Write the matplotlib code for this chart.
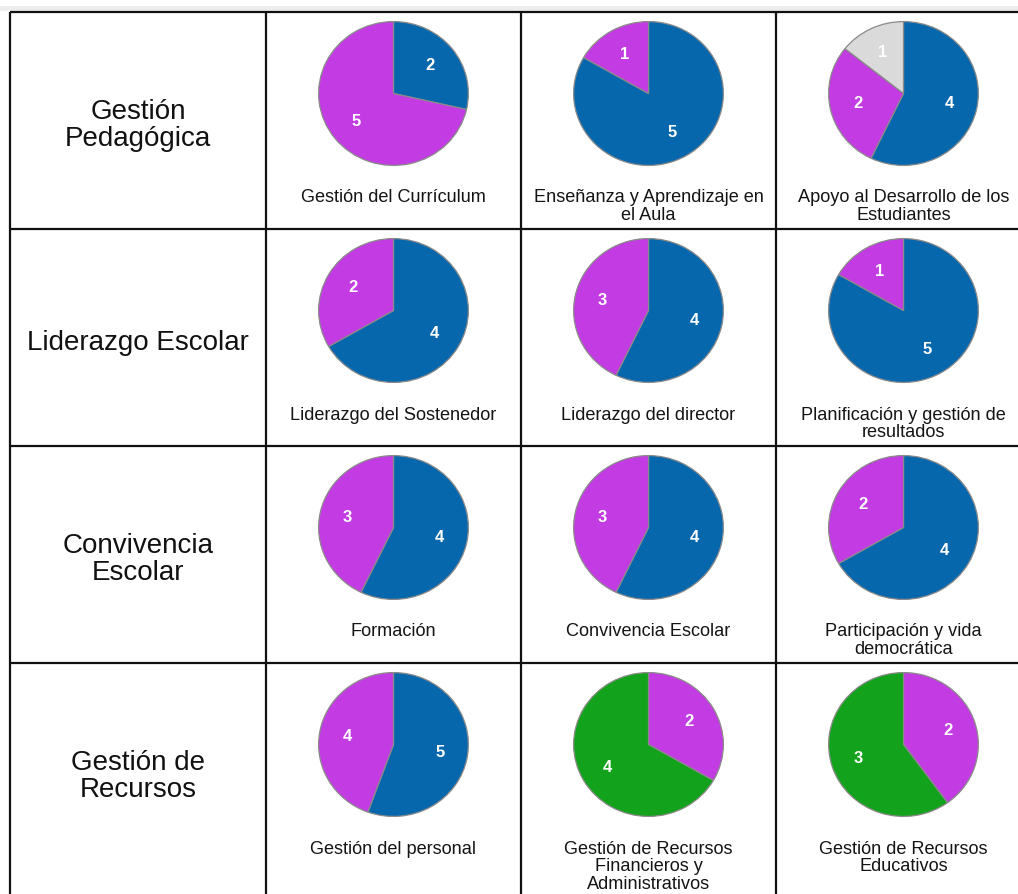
import matplotlib
matplotlib.use("Agg")
import matplotlib.pyplot as plt

plt.rcParams['font.family'] = ['Liberation Sans', 'DejaVu Sans']

# ---- data ----
row_labels = ["Gestión\nPedagógica", "Liderazgo Escolar", "Convivencia\nEscolar", "Gestión de\nRecursos"]
captions = [
    ["Gestión del Currículum", "Enseñanza y Aprendizaje en\nel Aula", "Apoyo al Desarrollo de los\nEstudiantes"],
    ["Liderazgo del Sostenedor", "Liderazgo del director", "Planificación y gestión de\nresultados"],
    ["Formación", "Convivencia Escolar", "Participación y vida\ndemocrática"],
    ["Gestión del personal", "Gestión de Recursos\nFinancieros y\nAdministrativos", "Gestión de Recursos\nEducativos"],
]
# series order: blue, magenta, green, gray
series_colors = ["#0767AD", "#C33BE3", "#13A21B", "#DADADA"]
blue_vals = [[2, 5, 4], [4, 4, 5], [4, 4, 4], [5, 0, 0]]
magenta_vals = [[5, 1, 2], [2, 3, 1], [3, 3, 2], [4, 2, 2]]
green_vals = [[0, 0, 0], [0, 0, 0], [0, 0, 0], [0, 4, 3]]
gray_vals = [[0, 0, 1], [0, 0, 0], [0, 0, 0], [0, 0, 0]]

# ---- layout (pixels) ----
W, H = 1018, 894
fig = plt.figure(figsize=(W / 100, H / 100), dpi=100)
ax = fig.add_axes([0, 0, 1, 1])
ax.set_xlim(0, W)
ax.set_ylim(H, 0)
ax.axis('off')

# light page shadow at top
ax.axhspan(6, 11, color="#ededed", lw=0, zorder=0)

col_edges = [10, 266, 521, 776, 1031]
row_edges = [12, 229, 446, 663, 880]
lw = 1.6
for x in col_edges[:-1]:
    ax.plot([x, x], [row_edges[0], H + 5], color="#111111", lw=lw, solid_capstyle='butt')
for y in row_edges[:-1]:
    ax.plot([col_edges[0], W + 5], [y, y], color="#111111", lw=lw, solid_capstyle='butt')

pie_w, pie_h = 152, 146

for r in range(4):
    top = row_edges[r]
    bot = row_edges[r + 1]
    ax.text((col_edges[0] + col_edges[1]) / 2, (top + bot) / 2 + 5, row_labels[r],
            ha='center', va='center', fontsize=20, color="#111111", linespacing=1.02)
    for c in range(3):
        cx = (col_edges[c + 1] + col_edges[c + 2]) / 2
        cy = top + 81.5
        vals_all = [blue_vals[r][c], magenta_vals[r][c], green_vals[r][c], gray_vals[r][c]]
        vals = [v for v in vals_all if v > 0]
        cols = [series_colors[i] for i, v in enumerate(vals_all) if v > 0]
        total = sum(vals)
        pax = fig.add_axes([(cx - pie_w / 2) / W, 1 - (cy + pie_h / 2) / H, pie_w / W, pie_h / H])
        pax.pie(vals, colors=cols, startangle=90, counterclock=False,
                autopct=lambda p, t=total: f"{round(p * t / 100)}", pctdistance=0.63,
                wedgeprops=dict(edgecolor="#8a8a8a", linewidth=0.9),
                textprops=dict(color='white', fontweight='bold', fontsize=12))
        pax.set_aspect('auto')
        pax.set_xlim(-1.015, 1.015)
        pax.set_ylim(-1.015, 1.015)
        pax.axis('off')
        ax.text(cx, top + 177.5, captions[r][c], ha='center', va='top', fontsize=13.1,
                color="#141414", linespacing=1.06)

fig.savefig("out.png", dpi=100)
